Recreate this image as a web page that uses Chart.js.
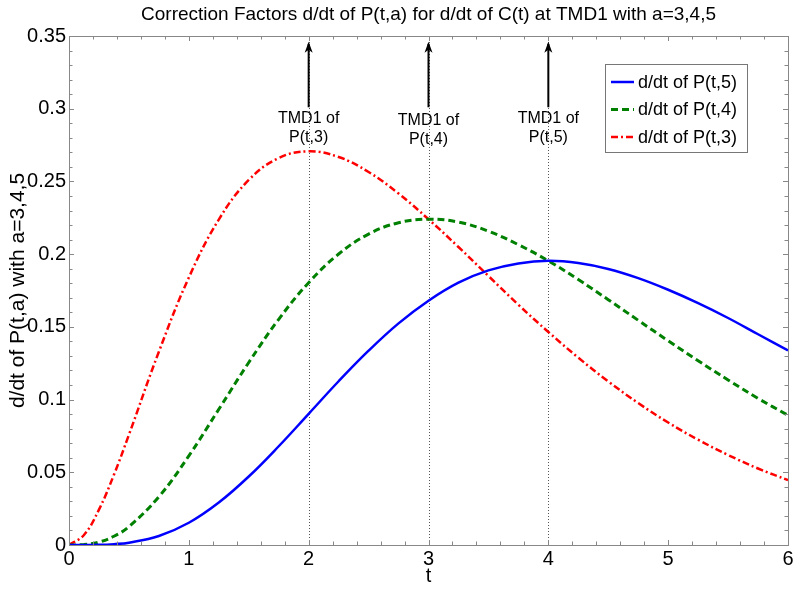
<!DOCTYPE html>
<html>
<head>
<meta charset="utf-8">
<script src="https://cdn.jsdelivr.net/npm/chart.js@4"></script>
<style>
  body { margin: 0; background: #fff; }
  #wrap { width: 800px; height: 591px; }
</style>
</head>
<body>
<div id="wrap"><canvas id="chart"></canvas></div>
<script>
const FONT = '"Liberation Sans", Arial, Helvetica, sans-serif';
const TITLE = 'Correction Factors d/dt of P(t,a) for d/dt of C(t) at TMD1 with a=3,4,5';

// t values (x) and the three curves
const tValues = [0, 0.125, 0.25, 0.375, 0.5, 0.75, 1, 1.25, 1.5, 1.75, 2, 2.25, 2.5, 2.75, 3,
  3.25, 3.5, 3.75, 4, 4.25, 4.5, 4.75, 5, 5.25, 5.5, 5.75, 6];
const dP5 = [0, 0.0000, 0.0001, 0.0006, 0.0016, 0.0062, 0.0153, 0.0292, 0.0471, 0.0679, 0.0902, 0.1126,
  0.1336, 0.1524, 0.1680, 0.1804, 0.1888, 0.1936, 0.1954, 0.1939, 0.1898, 0.1835,
  0.1755, 0.1663, 0.1561, 0.1449, 0.1338];
const dP4 = [0, 0.0003, 0.0020, 0.0060, 0.0126, 0.0332, 0.0613, 0.0933, 0.1255, 0.1552, 0.1804, 0.2001,
  0.2138, 0.2216, 0.2240, 0.2220, 0.2158, 0.2065, 0.1954, 0.1825, 0.1687, 0.1545,
  0.1404, 0.1267, 0.1135, 0.1008, 0.0892];
const dP3 = [0, 0.0069, 0.0243, 0.0483, 0.0758, 0.1329, 0.1839, 0.2238, 0.2510, 0.2661, 0.2707, 0.2668,
  0.2565, 0.2417, 0.2240, 0.2049, 0.1850, 0.1652, 0.1465, 0.1288, 0.1125, 0.0976,
  0.0842, 0.0724, 0.0619, 0.0526, 0.0446];

const seriesLabels = ['d/dt of P(t,5)', 'd/dt of P(t,4)', 'd/dt of P(t,3)'];

// TMD1 markers
const tmdT = [2, 3, 4];
const tmdNames = ['P(t,3)', 'P(t,4)', 'P(t,5)'];
const arrowBase = 0.301;
const arrowTip = 0.346;

const toPoints = ys => ys.map((y, i) => ({x: tValues[i], y: y}));

const isWhole = v => Math.abs(v - Math.round(v)) < 1e-6;
const isFifth = v => Math.abs(v * 20 - Math.round(v * 20)) < 1e-6;

// MATLAB-ish title over the axes, box with inward ticks, dotted TMD lines, arrows, labels, legend
const decorations = {
  id: 'decorations',
  beforeDatasetsDraw(chart) {
    const {ctx, chartArea, scales: {x}} = chart;
    ctx.save();
    ctx.strokeStyle = '#555';
    ctx.lineWidth = 1;
    ctx.setLineDash([1, 2]);
    tmdT.forEach(t => {
      const px = Math.round(x.getPixelForValue(t)) + 0.5;
      ctx.beginPath();
      ctx.moveTo(px, chartArea.top);
      ctx.lineTo(px, chartArea.bottom);
      ctx.stroke();
    });
    ctx.restore();
  },
  afterDatasetsDraw(chart) {
    const {ctx, chartArea, scales: {x, y}} = chart;
    const {left, right, top, bottom} = chartArea;
    ctx.save();

    // title, centred over the axes
    ctx.fillStyle = '#000';
    ctx.font = '19px ' + FONT;
    ctx.textAlign = 'center';
    ctx.textBaseline = 'middle';
    ctx.fillText(TITLE, (left + right) / 2, 15);

    // box
    ctx.strokeStyle = '#888';
    ctx.lineWidth = 1;
    ctx.strokeRect(Math.round(left) + 0.5, Math.round(top) + 0.5,
      Math.round(right - left), Math.round(bottom - top));

    // inward ticks
    ctx.beginPath();
    x.ticks.forEach(tk => {
      const px = Math.round(x.getPixelForValue(tk.value)) + 0.5;
      const len = isWhole(tk.value) ? 5 : 3.5;
      ctx.moveTo(px, bottom); ctx.lineTo(px, bottom - len);
      ctx.moveTo(px, top); ctx.lineTo(px, top + len);
    });
    y.ticks.forEach(tk => {
      const py = Math.round(y.getPixelForValue(tk.value)) + 0.5;
      const len = isFifth(tk.value) ? 5 : 3.5;
      ctx.moveTo(left, py); ctx.lineTo(left + len, py);
      ctx.moveTo(right, py); ctx.lineTo(right - len, py);
    });
    ctx.stroke();

    // arrows and TMD1 labels
    ctx.strokeStyle = '#000';
    ctx.fillStyle = '#000';
    ctx.lineWidth = 2;
    ctx.font = '16px ' + FONT;
    tmdT.forEach((t, i) => {
      const px = x.getPixelForValue(t);
      const y0 = y.getPixelForValue(arrowBase);
      const y1 = y.getPixelForValue(arrowTip);
      ctx.beginPath();
      ctx.moveTo(px, y0);
      ctx.lineTo(px, y1 + 2);
      ctx.stroke();
      ctx.beginPath();
      ctx.moveTo(px, y1);
      ctx.lineTo(px - 4, y1 + 11);
      ctx.lineTo(px, y1 + 8);
      ctx.lineTo(px + 4, y1 + 11);
      ctx.closePath();
      ctx.fill();
      const shift = i === 1 ? 2 : 0;
      ctx.fillText('TMD1 of', px, y0 + 11 + shift);
      ctx.fillText(tmdNames[i], px, y0 + 30 + shift);
    });

    // legend
    const bx = 605.5, by = 64.5, bw = 142, bh = 88;
    ctx.fillStyle = '#fff';
    ctx.fillRect(bx, by, bw, bh);
    ctx.strokeStyle = '#777';
    ctx.lineWidth = 1;
    ctx.strokeRect(bx, by, bw, bh);
    ctx.font = '18px ' + FONT;
    ctx.textAlign = 'left';
    chart.data.datasets.forEach((ds, i) => {
      const ry = 82 + i * 27.5;
      ctx.strokeStyle = ds.borderColor;
      ctx.lineWidth = ds.borderWidth;
      ctx.setLineDash(ds.borderDash || []);
      ctx.beginPath();
      ctx.moveTo(611, ry);
      ctx.lineTo(634, ry);
      ctx.stroke();
      ctx.setLineDash([]);
      ctx.fillStyle = '#000';
      ctx.fillText(ds.label, 638, ry + 1);
    });
    ctx.restore();
  }
};

new Chart(document.getElementById('chart'), {
  type: 'line',
  data: {
    datasets: [{
      label: seriesLabels[0],
      data: toPoints(dP5),
      borderColor: '#0000ff',
      borderWidth: 2.5
    }, {
      label: seriesLabels[1],
      data: toPoints(dP4),
      borderColor: '#008000',
      borderWidth: 3,
      borderDash: [7, 4]
    }, {
      label: seriesLabels[2],
      data: toPoints(dP3),
      borderColor: '#ff0000',
      borderWidth: 2.5,
      borderDash: [7, 3, 2, 3]
    }]
  },
  options: {
    responsive: true,
    maintainAspectRatio: false,
    animation: false,
    layout: {padding: {left: 0, right: 12, top: 36, bottom: 0}},
    elements: {
      point: {radius: 0},
      line: {tension: 0.4, borderCapStyle: 'butt'}
    },
    plugins: {
      legend: {display: false},
      tooltip: {enabled: false},
      title: {display: false}
    },
    scales: {
      x: {
        type: 'linear',
        min: 0,
        max: 6,
        afterFit: s => { s.height = 46; },
        grid: {display: false, drawTicks: false},
        border: {display: false},
        ticks: {
          stepSize: 0.2,
          autoSkip: false,
          maxRotation: 0,
          padding: 2,
          color: '#000',
          font: {family: FONT, size: 20},
          callback: v => isWhole(v) ? String(Math.round(v)) : ''
        },
        title: {
          display: true,
          text: 't',
          color: '#000',
          padding: {top: 0, bottom: 3},
          font: {family: FONT, size: 20}
        }
      },
      y: {
        min: 0,
        max: 0.35,
        afterFit: s => { s.width = 69; },
        grid: {display: false, drawTicks: false},
        border: {display: false},
        ticks: {
          stepSize: 0.01,
          autoSkip: false,
          padding: 3,
          color: '#000',
          font: {family: FONT, size: 20},
          callback: v => isFifth(v) ? String(Number(v.toFixed(2))) : ''
        },
        title: {
          display: true,
          text: 'd/dt of P(t,a) with a=3,4,5',
          color: '#000',
          padding: {top: 6, bottom: 4},
          font: {family: FONT, size: 21}
        }
      }
    }
  },
  plugins: [decorations]
});
</script>
</body>
</html>
